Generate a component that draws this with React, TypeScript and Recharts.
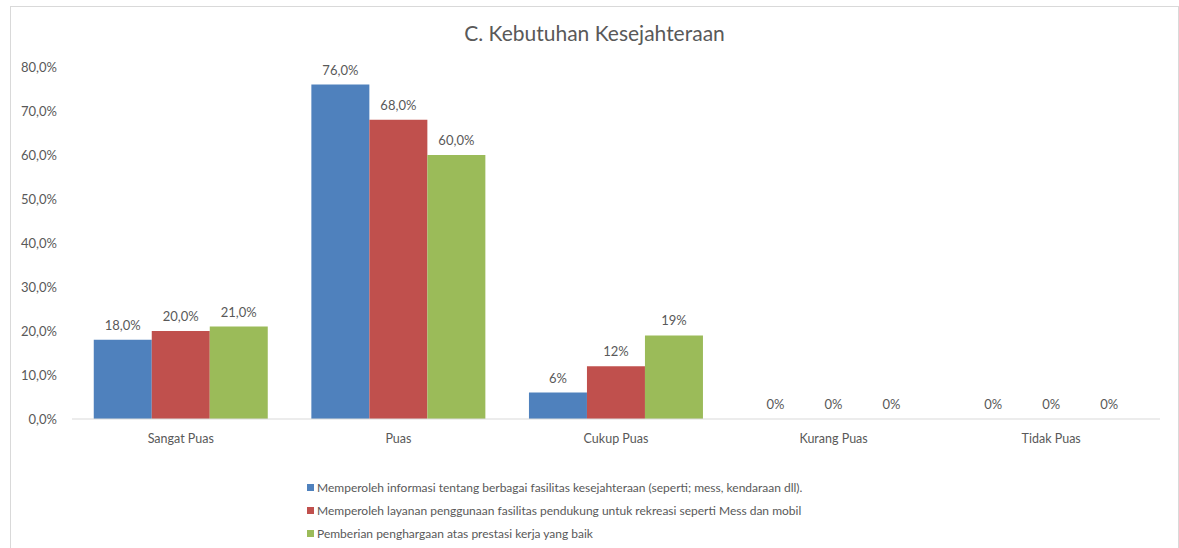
import React from 'react'
import { BarChart, Bar, XAxis, YAxis, Legend, LabelList } from 'recharts'

const categories = ['Sangat Puas', 'Puas', 'Cukup Puas', 'Kurang Puas', 'Tidak Puas']
const infoFasilitas = [18, 76, 6, 0, 0]
const layananRekreasi = [20, 68, 12, 0, 0]
const penghargaan = [21, 60, 19, 0, 0]
// Excel showed one decimal for the first two groups only
const labelDecimals = [1, 1, 0, 0, 0]
const yTicks = [0, 10, 20, 30, 40, 50, 60, 70, 80]

const seriesNames = [
  'Memperoleh informasi tentang berbagai fasilitas kesejahteraan (seperti; mess, kendaraan dll).',
  'Memperoleh layanan penggunaan fasilitas pendukung untuk rekreasi seperti Mess dan mobil',
  'Pemberian penghargaan atas prestasi kerja yang baik',
]

const data = categories.map((name, i) => ({
  name,
  info: infoFasilitas[i],
  layanan: layananRekreasi[i],
  penghargaan: penghargaan[i],
}))

const FONT = 'Lato, "Open Sans", sans-serif'
const TEXT = '#595959'

const fmtPct = (v: number, dec: number) => v.toFixed(dec).replace('.', ',') + '%'

const renderLabel = (props: any) => {
  const { x, y, width, value, index } = props
  return (
    <text
      x={x + width / 2}
      y={y - 10}
      textAnchor="middle"
      fill={TEXT}
      fontSize={13}
      fontFamily={FONT}
    >
      {fmtPct(value, labelDecimals[index])}
    </text>
  )
}

const renderLegend = (props: any) => {
  const { payload } = props
  return (
    <div style={{ paddingLeft: 296 }}>
      {payload.map((entry: any) => (
        <div
          key={entry.value}
          style={{
            display: 'flex',
            alignItems: 'center',
            height: 23,
            fontSize: 12,
            fontFamily: FONT,
            color: TEXT,
          }}
        >
          <span
            style={{
              width: 7,
              height: 7,
              background: entry.color,
              marginRight: 3,
              display: 'inline-block',
            }}
          />
          {entry.value}
        </div>
      ))}
    </div>
  )
}

export default function App() {
  return (
    <div
      style={{
        position: 'fixed',
        left: 10,
        top: 6,
        width: 1167,
        height: 600,
        border: '1px solid #d9d9d9',
        background: '#fff',
      }}
    >
      <div
        style={{
          position: 'absolute',
          top: 13,
          width: '100%',
          textAlign: 'center',
          fontFamily: FONT,
          fontSize: 21,
          color: TEXT,
        }}
      >
        C. Kebutuhan Kesejahteraan
      </div>
      <BarChart
        width={1167}
        height={542}
        data={data}
        margin={{ top: 60, right: 18, bottom: 100, left: 0 }}
        barCategoryGap="10%"
        barGap={0}
      >
        <XAxis
          dataKey="name"
          axisLine={{ stroke: '#d9d9d9' }}
          tickLine={false}
          tickMargin={9}
          height={30}
          tick={{ fill: TEXT, fontSize: 12.5, fontFamily: FONT }}
        />
        <YAxis
          width={61}
          domain={[0, 80]}
          ticks={yTicks}
          axisLine={false}
          tickLine={false}
          tickSize={0}
          tickMargin={15}
          tickFormatter={(v: number) => fmtPct(v, 1)}
          tick={{ fill: TEXT, fontSize: 13, fontFamily: FONT }}
        />
        <Legend
          layout="vertical"
          align="center"
          verticalAlign="middle"
          content={renderLegend}
          wrapperStyle={{ top: 469, left: 0, width: 1167 }}
        />
        <Bar dataKey="info" name={seriesNames[0]} fill="#4F81BD" minPointSize={0.01} isAnimationActive={false}>
          <LabelList dataKey="info" content={renderLabel} />
        </Bar>
        <Bar dataKey="layanan" name={seriesNames[1]} fill="#C0504D" minPointSize={0.01} isAnimationActive={false}>
          <LabelList dataKey="layanan" content={renderLabel} />
        </Bar>
        <Bar dataKey="penghargaan" name={seriesNames[2]} fill="#9BBB59" minPointSize={0.01} isAnimationActive={false}>
          <LabelList dataKey="penghargaan" content={renderLabel} />
        </Bar>
      </BarChart>
    </div>
  )
}
